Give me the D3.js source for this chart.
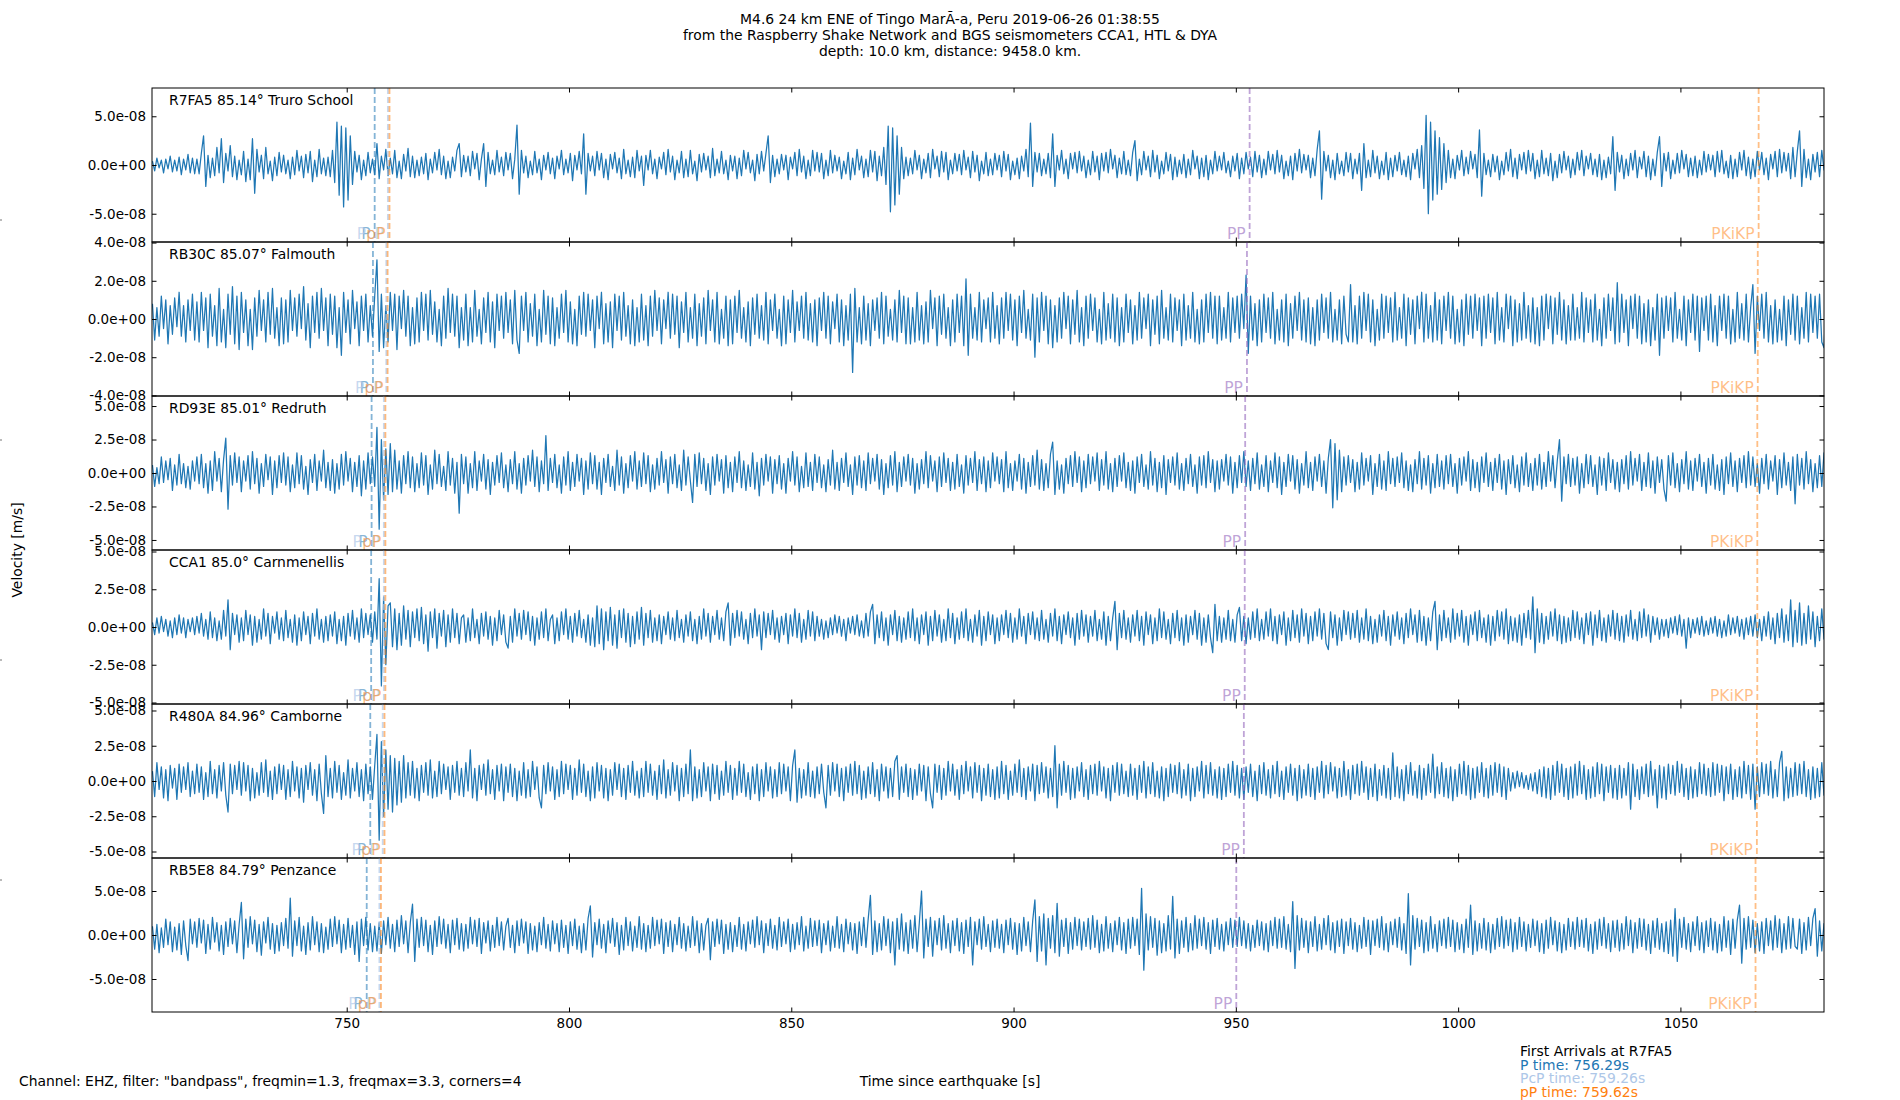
<!DOCTYPE html>
<html>
<head>
<meta charset="utf-8">
<script src="https://cdn.jsdelivr.net/npm/d3@7"></script>
<style>
  body { margin: 0; background: #fff; }
  svg { display: block; }
  text { font-family: "DejaVu Sans", sans-serif; }
</style>
</head>
<body>
<div id="main-vis"></div>
<script>
// ---- data ----
const stationIds = ['R7FA5', 'RB30C', 'RD93E', 'CCA1', 'R480A', 'RB5E8']
const distances = ['85.14', '85.07', '85.01', '85.0', '84.96', '84.79']
const places = ['Truro School', 'Falmouth', 'Redruth', 'Carnmenellis', 'Camborne', 'Penzance']

// y limits of each panel, nm/s
const yLimits = [79, 40.3, 57.5, 51, 54.6, 87.5]
// y tick values (m/s)
const yTicks = [
  [-5e-8, 0, 5e-8],
  [-4e-8, -2e-8, 0, 2e-8, 4e-8],
  [-5e-8, -2.5e-8, 0, 2.5e-8, 5e-8],
  [-5e-8, -2.5e-8, 0, 2.5e-8, 5e-8],
  [-5e-8, -2.5e-8, 0, 2.5e-8, 5e-8],
  [-5e-8, 0, 5e-8]
]
const xTicks = [750, 800, 850, 900, 950, 1000, 1050]
const xRange = [706.2, 1082.3]

// arrival times (s) per station
const arrivalP = [756.29, 755.9, 755.6, 755.5, 755.3, 754.5]
const arrivalPcP = [759.26, 758.9, 758.35, 758.35, 758.1, 757.35]
const arrivalpP = [759.62, 759.2, 758.7, 758.7, 758.5, 757.7]
const arrivalPP = [953.1, 952.5, 952.1, 952.0, 951.8, 950.1]
const arrivalPKiKP = [1067.6, 1067.4, 1067.3, 1067.3, 1067.2, 1066.9]

// traces, nm/s, one sample every 0.5 s from 706.3 s (rows of 10 s)
const T0 = 706.3
const DT = 0.5

const traceR7FA5 = [
  4,-6,7,-3,5,-8,6,-4,9,-7,5,-6,8,-10,6,-5,11,-8,7,-9,
  6,-9,12,30,-22,10,-13,7,-11,18,-8,27,-18,12,-6,20,-12,9,-15,5,
  -10,14,-17,6,-15,27,-29,16,-7,10,-14,18,-9,4,-16,8,-11,13,-7,10,
  -9,5,-14,8,-10,15,-6,9,-13,11,-8,14,-17,5,-12,16,-9,7,-11,8,
  -12,15,-18,44,-31,40,-43,38,-36,30,-20,14,-7,10,-15,5,-11,13,-8,6,
  -10,22,-14,9,-5,16,-11,7,-9,15,-13,4,-14,11,-6,17,-12,9,-13,5,
  -11,8,-9,12,-15,6,-8,13,-5,16,-10,9,-14,4,-13,8,-6,15,22,-12,
  10,-7,9,-11,14,-4,12,-15,6,22,-22,13,-9,5,-10,15,-7,8,-11,13,
  -5,12,-14,6,41,-30,15,-8,9,-13,4,-10,14,-8,6,-15,10,-5,13,-9,
  7,-14,9,-4,15,-10,6,-8,12,-16,10,-5,14,-9,32,-30,12,-6,9,-11,
  14,-5,12,-13,6,-15,11,-4,13,-8,7,-14,16,-9,5,-12,8,-13,15,-6,
  9,-21,10,-5,15,-9,6,-14,8,-4,13,-10,16,-7,9,-15,5,-8,14,-13,
  6,-12,15,-9,4,-16,11,-7,12,-5,9,-13,17,-11,6,-8,14,-9,5,-15,
  10,-6,9,-14,7,-11,15,-4,13,-8,5,-16,11,-9,14,-6,12,30,-18,10,
  -12,6,-9,11,-5,10,-15,8,-4,13,-11,16,-7,9,-14,5,-11,15,-6,13,
  -7,12,-14,5,-11,15,-8,10,-6,8,-14,4,-9,13,-15,7,-10,16,-5,9,
  -13,6,-12,15,-7,14,-16,9,-11,18,-20,40,-48,38,-41,30,-30,18,-14,8,
  -11,7,-9,15,-5,10,-14,6,-8,12,-13,16,-4,9,-12,14,-7,13,-15,5,
  -9,12,-6,11,-10,15,-5,8,-13,14,-7,10,-16,4,-9,13,-11,6,-10,12,
  -5,10,-12,14,-6,11,-15,4,-10,7,-14,9,-6,16,-12,43,-22,13,-7,12,
  -11,6,-9,12,-13,32,-22,10,-5,15,-9,6,-14,12,-4,13,-8,14,-6,9,
  -13,5,-10,14,-7,9,-15,12,-6,13,-8,16,-4,10,-13,7,-9,14,-10,5,
  -11,13,25,-16,6,-10,14,-5,9,-12,15,-7,10,-14,4,-9,13,-6,11,-15,
  8,-12,5,-9,11,-13,6,-10,15,-4,9,-14,7,-12,10,-15,5,-9,14,-6,
  9,-5,13,-8,4,-12,9,-6,12,-14,7,-9,13,-4,8,-12,14,-7,10,-13,
  6,-10,14,-5,11,-9,15,-7,10,-14,4,-11,9,-15,12,-6,16,-8,11,-5,
  10,-13,7,-11,16,35,-35,14,-6,10,-13,5,-15,12,-9,4,-11,13,-7,12,
  -14,6,-9,12,-26,22,-13,5,-12,15,-8,9,-14,4,-10,13,-15,7,-12,10,
  -6,13,-10,5,-12,9,-15,12,-4,16,-13,20,-24,51,-50,44,-36,35,-30,28,
  -25,22,-18,15,-13,6,-14,10,-5,15,-11,8,-9,14,-4,11,-13,36,-32,12,
  -10,5,-12,11,-7,9,-15,4,-10,13,-6,16,-12,7,-14,11,-5,13,-9,15,
  -6,12,-14,5,-12,15,-9,7,-11,12,-16,4,-13,11,-8,14,-5,9,-13,6,
  -10,13,-5,15,-11,9,-4,12,-10,6,-12,11,-15,5,-13,8,-9,29,-26,13,
  -7,10,-14,6,-11,12,-5,15,-13,8,-4,14,-12,9,-15,6,-11,13,29,-22,
  12,-6,13,-14,5,-9,12,-8,15,-4,11,-12,7,-11,9,-13,5,-10,14,-7,
  11,-5,10,-12,14,-7,15,-9,4,-13,10,-14,6,-12,13,-5,15,-11,8,-14,
  6,-12,14,-5,13,-10,7,-15,11,-4,14,-12,16,-8,13,-6,12,-14,18,-12,
  14,35,-22,16,-13,6,-15,11,-7,13,-12,15,-5,12,-11,10,-12,11,-10,9
]

const traceRB30C = [
  8,-11,6,-9,12,-5,10,-13,7,-8,11,-4,14,-9,7,-12,10,-6,13,-11,
  9,-12,14,-6,11,-15,13,-9,7,-14,16,-12,5,-15,13,-8,17,-13,12,-16,
  14,-7,10,-14,5,-16,11,-9,15,-6,10,-12,14,-8,16,-10,6,-14,11,-13,
  10,-12,15,-6,11,-9,13,-5,17,-11,8,-15,12,-7,14,-10,16,-6,11,-14,
  13,-8,12,-15,6,-19,14,-7,10,-13,15,-5,9,-14,12,-6,13,-12,7,-9,
  12,31,-17,13,-15,7,-12,14,-6,13,-16,12,-5,15,-9,12,-14,6,-13,11,
  -12,14,-6,13,-11,15,-8,9,-12,5,-14,12,-10,16,-7,13,-9,12,-15,6,
  -11,13,-14,6,-12,15,-9,5,-13,11,-7,14,-12,9,-15,13,-6,12,-10,14,
  -7,10,-13,15,-11,-18,12,-6,14,-12,8,-9,13,-14,5,-12,15,-8,12,-13,
  11,-14,6,-10,13,-7,15,-12,9,-13,5,-14,12,-8,14,-9,13,-6,10,-15,
  12,-5,14,-13,8,-12,9,-15,13,-6,12,-11,14,-9,7,-13,10,-14,6,-12,
  13,-11,7,-14,12,-9,15,-6,11,-13,10,-5,14,-10,13,-8,12,-15,9,-7,
  14,-12,6,-10,13,-14,8,-9,11,-13,15,-6,10,-12,14,-13,5,-10,12,-14,
  10,-13,12,-7,15,-10,6,-12,9,-14,11,-8,13,-10,7,-11,14,-13,10,-6,
  13,-10,5,-14,12,-13,10,-7,15,-12,9,-6,12,-10,14,-11,8,-12,10,-14,
  11,-6,14,-10,12,-13,9,-5,13,-12,10,-14,7,-11,13,-28,16,-12,6,-13,
  12,-11,8,-14,10,-6,11,-10,14,-13,12,-9,5,-11,10,-12,15,-7,12,-13,
  11,-13,6,-12,14,-11,7,-13,9,-12,15,-5,11,-14,12,-8,13,-10,6,-14,
  10,-12,13,-7,12,-14,21,-19,13,-10,6,-11,14,-12,10,-5,11,-12,14,-10,
  7,-13,11,-10,14,-6,13,-11,10,-14,12,-7,15,-10,5,-11,13,-20,11,-12,
  14,-6,12,-13,10,-15,7,-12,11,-10,14,-5,12,-13,10,-8,15,-12,6,-14,
  12,-10,13,-6,11,-12,5,-13,14,-11,8,-10,13,-12,11,-14,6,-12,13,-7,
  10,-13,7,-11,14,-10,11,-5,13,-14,10,-8,12,-13,15,-10,6,-11,13,-12,
  11,-6,10,-14,13,-11,7,-10,14,-12,5,-13,10,-12,13,-7,14,-10,12,-13,
  12,-11,6,-10,14,-12,11,-7,12,-10,13,-5,23,-18,12,-11,8,-14,10,-12,
  13,-7,11,-10,14,-13,5,-11,10,-12,13,-14,8,-10,12,-6,14,-11,10,-12,
  11,-13,6,-14,10,-11,13,-7,11,-10,14,-12,5,-11,10,-13,12,-8,-12,18,
  -12,7,-13,12,-10,14,-6,13,-12,10,-14,5,-11,13,-10,12,-7,11,-12,14,
  -11,6,-10,13,-14,11,-8,10,-13,12,-5,14,-12,13,-10,7,-12,14,-11,10,
  -13,12,-6,14,-10,12,-13,5,-12,10,-14,13,-8,12,-10,13,-6,11,-14,12,
  -10,13,-7,11,-13,14,-11,6,-12,13,-5,12,-14,10,-12,8,-11,14,-10,7,
  -12,11,-13,6,-14,12,-11,13,-5,12,-13,11,-8,14,-11,10,-13,7,-11,13,
  -11,6,-10,14,-12,11,-7,10,-12,13,-11,5,-14,11,-10,13,-6,11,-13,19,
  -12,13,-7,10,-14,12,-5,13,-10,12,-13,8,-12,10,-14,6,-11,13,-19,11,
  -10,12,-6,11,-12,14,-10,5,-11,12,-14,10,-7,13,-11,12,-17,11,-6,12,
  -11,13,-12,7,-14,12,-6,13,-10,12,-13,5,-12,14,-10,8,-11,13,-12,6,
  18,-18,12,-6,13,-10,14,-12,7,-13,10,-12,5,-11,12,-14,10,-8,13,-11,
  12,-13,6,-10,14,-12,13,-7,12,-10,13,-12,-15,11,-12,10,-13,12,-11,10
]

const traceRD93E = [
  6,-10,4,-8,12,-7,9,-5,11,-13,6,-9,14,-8,7,-11,5,-12,9,-6,
  12,-8,14,-11,7,-15,9,-13,16,-6,11,-14,10,26,-27,13,-9,15,-7,12,
  -14,9,-6,13,-12,16,-8,11,-15,7,-10,14,-5,12,-16,9,-11,13,-7,15,
  -9,12,-14,6,-11,15,-8,13,-12,5,-16,10,-7,14,-13,9,-6,17,-11,8,
  -13,10,-15,7,-12,14,-9,16,-6,11,-14,8,-10,13,-17,9,-12,15,-8,12,
  -10,34,-42,25,-20,18,-16,22,-14,17,-12,9,-15,13,-8,16,-11,12,-14,7,
  -11,15,-9,13,-16,6,-12,17,-8,14,-10,5,-13,16,-9,11,-15,8,-30,14,
  -8,12,-15,7,-11,16,-13,9,-6,14,-12,10,-16,8,-9,13,-7,15,-11,6,
  -14,10,-8,16,-12,7,-15,11,-9,13,-6,17,-10,12,-14,9,-8,28,-13,11,
  -7,14,-11,6,-15,12,-9,16,-13,8,-10,14,-6,11,-16,9,-12,15,-8,13,
  -12,8,-16,11,-7,14,-10,5,-13,17,-9,12,-15,7,-11,13,-6,16,-12,9,
  -10,15,-8,13,-14,6,-12,11,-9,16,-7,10,-15,12,-8,14,-11,6,-13,17,
  -9,12,-6,-22,14,-10,15,-8,11,-13,7,-16,12,-9,14,-6,10,-15,13,-11,
  8,-14,12,-7,16,-11,9,-13,6,-10,15,-12,8,-17,11,-9,14,-6,12,-15,
  10,-8,13,-12,7,-15,11,-6,16,-9,12,-14,5,-11,15,-10,8,-13,14,-7,
  12,-11,6,-14,10,-9,17,-12,8,-13,11,-7,15,-10,6,-16,12,-9,13,-11,
  9,-13,15,-8,11,-6,14,-12,10,-16,7,-11,13,-9,16,-14,8,-10,12,-6,
  14,-9,11,-15,7,-12,10,-8,16,-11,13,-6,9,-14,12,-10,15,-7,11,-13,
  8,-12,14,-10,6,-15,13,-9,11,-7,16,-13,10,-8,12,-14,9,-11,15,-6,
  12,-8,10,-14,16,-11,7,-13,9,-6,14,-12,11,-15,8,-10,13,-9,17,-12,
  10,-13,7,-11,14,23,-16,9,-12,6,-15,11,-8,13,-10,16,-7,12,-14,9,
  -11,14,-8,12,-6,15,-13,10,-9,16,-12,7,-14,11,-10,13,-6,15,-11,8,
  -13,9,-15,12,-7,14,-10,6,-12,16,-9,11,-14,8,-11,13,-16,10,-7,12,
  -9,15,-12,7,-13,11,-8,14,-10,6,-15,12,-9,13,-11,16,-7,10,-14,9,
  -12,10,-6,14,-9,12,-15,8,-11,13,-7,16,-10,9,-13,11,-8,15,-12,6,
  -10,13,-14,9,-7,15,-11,12,-16,8,-10,14,-6,13,-12,10,-15,7,-9,16,
  -11,8,-13,12,-6,14,-10,9,-15,11,25,-26,22,-20,17,-14,12,-9,13,-7,
  10,-14,8,-12,15,-9,11,-6,13,-16,7,-10,14,-12,9,-13,16,-8,11,-10,
  12,-7,15,-11,9,-13,6,-14,10,-8,16,-12,11,-9,13,-15,7,-11,14,-10,
  9,-12,13,-8,14,-10,7,-15,11,-9,12,-6,16,-13,10,-11,8,-14,12,-7,
  15,-10,8,-13,11,-7,14,-12,9,-16,10,-8,13,-11,6,-14,12,-9,15,-10,
  7,-13,11,-9,14,-12,8,-10,16,-6,13,-11,9,25,-21,12,-8,14,-10,11,
  -9,12,-15,7,-11,14,-8,13,-10,6,-16,12,-9,11,-13,15,-7,10,-12,8,
  -14,10,-8,13,-12,16,-9,11,-6,14,-13,8,-10,15,-11,9,-15,12,-7,10,
  -12,-21,13,-9,15,-11,7,-14,10,-8,16,-12,9,-13,11,-6,14,-10,8,-15,
  11,-9,14,-12,6,-13,10,-16,12,-8,15,-10,9,-14,11,-7,13,-11,16,-9,
  12,-10,7,-15,11,-8,14,-12,9,-6,13,-16,10,-11,15,-9,8,-13,12,-23,
  14,-9,11,-12,16,-8,10,-14,7,-11,13,-10,15,-12,9,-7,12,-10,8,-6
]

const traceCCA1 = [
  3,-5,6,-4,7,-3,5,-6,4,-7,6,-5,8,-4,6,-7,5,-3,6,-5,
  7,-4,9,-6,5,-8,10,-7,6,-9,4,-8,11,-6,18,-15,9,-5,8,-10,
  6,-9,11,-5,8,-12,7,-10,5,-8,12,-6,9,-11,7,-4,10,-8,6,-9,
  11,-7,5,-10,8,-12,6,-9,10,-5,7,-11,9,-6,12,-8,5,-10,7,-9,
  8,-6,10,-11,5,-9,7,-12,9,-6,11,-8,6,-10,12,-7,9,-5,8,-10,
  10,-8,32,-39,20,-25,14,16,-13,12,-15,9,-12,14,-8,11,-13,10,-7,12,
  -9,13,-11,8,-16,10,-7,12,-14,9,-6,11,-13,8,-10,12,-7,9,-11,6,
  8,-10,6,-9,12,-7,5,-11,9,-6,10,-8,7,-12,6,-9,11,-5,8,-10,
  -14,7,-10,12,-6,9,-8,11,-5,10,-9,7,-12,6,-8,10,-7,12,-9,5,
  8,-11,6,-9,10,-5,12,-8,7,-10,9,-6,11,-7,5,-10,8,-12,6,-13,
  14,-11,12,-15,10,-9,13,-12,8,-14,11,-7,12,-10,9,-13,7,-11,10,-8,
  13,-12,9,-7,11,-10,6,-9,8,-11,7,-5,10,-8,6,-9,11,-7,5,-10,
  8,-6,10,-9,5,-11,7,-8,12,-6,9,-10,7,-5,11,-8,6,-9,10,16,
  -12,9,-7,11,-6,10,-8,5,-11,9,-7,12,-6,8,-15,10,-7,9,-5,11,
  -8,6,-10,7,-5,9,-11,8,-6,12,-7,9,-10,5,-8,11,-6,10,-9,7,
  -6,5,-8,4,-7,6,-5,8,-4,7,-6,5,-9,6,-4,7,-5,8,-6,4,
  -7,9,-6,10,15,-11,8,-7,10,-9,6,-12,8,-5,11,-9,7,-10,6,-8,
  10,-7,12,-9,6,-11,8,-5,10,-12,7,-9,11,-6,8,-10,5,-9,12,-7,
  9,-11,6,-8,10,-7,12,-9,5,-10,8,-6,11,-12,7,-9,10,-5,8,-11,
  6,-9,8,-5,11,-7,9,-10,6,-8,12,-6,7,-11,9,-5,10,-8,6,-9,
  11,-8,5,-10,9,-6,12,-9,7,-11,8,-5,10,-7,6,-12,9,-8,11,-6,
  8,-10,7,-6,11,-9,5,-8,10,-12,7,-9,6,17,-15,9,-7,11,-8,6,
  -10,8,-6,11,-9,7,-12,10,-5,8,-11,6,-9,12,-7,10,-8,5,-11,9,
  -7,11,-9,6,-12,8,-10,7,-5,11,-8,9,-12,6,-10,8,-7,-17,15,-9,
  7,-10,6,-8,11,-9,5,-10,8,13,-9,7,-11,6,-8,10,-7,12,-9,5,
  -8,10,-6,12,-9,7,-11,8,-5,10,-12,6,-9,11,-7,8,-10,12,-6,9,
  -11,7,-9,10,-6,12,-8,9,-11,-15,10,-7,8,-12,6,-9,11,-5,10,-8,
  9,-7,11,-10,6,-8,12,-9,7,-11,5,-10,8,-6,11,-9,7,-12,8,-6,
  10,-8,6,-11,9,-7,12,-5,8,-10,11,-9,7,-12,6,-9,10,17,-15,8,
  -9,11,-7,6,-10,12,-8,9,-6,11,-10,7,-12,8,-5,10,-9,11,-7,6,
  -10,8,-12,7,-9,11,-6,10,-8,12,-11,7,-9,6,-10,8,-12,9,-7,11,
  -8,20,-17,12,-10,9,-11,7,-8,10,-6,12,-9,8,-11,7,-10,6,-9,11,
  -7,10,-8,6,-11,9,-5,10,-12,8,-7,11,-9,6,-10,8,-6,11,-8,9,
  -9,7,-10,8,-6,11,-8,5,-9,10,-7,12,-6,8,-10,7,-5,6,-8,5,
  -6,5,-7,6,-4,7,-5,8,-6,5,-14,6,-7,5,-4,6,-5,7,-6,4,
  -5,6,-4,7,-6,5,-7,4,-6,8,-5,6,-4,7,-6,5,-8,6,-5,7,
  -6,8,-7,5,-9,7,-6,10,-8,6,-11,9,-7,12,-10,8,-9,18,-13,11,
  -10,16,-12,9,-11,14,-8,10,-13,7,-9,12,-8,10,-7,9,-11,8,-6,10
]

const traceR480A = [
  7,-11,13,-6,10,-12,8,-14,11,-5,9,-13,12,-8,10,-6,13,-11,7,-9,
  12,-8,10,-13,6,-11,14,-9,8,-12,11,-7,13,-10,-22,12,-9,11,-6,14,
  -10,13,-7,11,-14,9,-12,6,-10,13,-8,15,-11,7,-13,10,-9,12,-6,11,
  -13,8,-11,14,-7,10,-12,9,-15,11,-6,13,-10,8,-14,12,-9,-23,18,-11,
  9,-12,14,-8,11,-13,6,-10,15,-12,9,-7,13,-11,8,-14,12,-9,10,-13,
  11,33,-42,28,-25,22,-20,18,-22,16,-17,14,-15,18,-12,13,-10,14,-12,9,
  -14,11,-8,13,-10,15,-12,7,-11,14,-9,12,-6,10,-13,11,-8,14,-10,9,
  -11,13,-7,22,-12,9,-14,11,-6,12,-10,15,-9,8,-13,11,-7,12,-14,10,
  -8,12,-11,9,-14,7,-10,13,-12,8,-11,14,-6,10,-12,-19,11,-9,13,-7,
  10,-13,8,-11,14,-9,12,-6,11,-13,9,-10,15,-8,12,-11,7,-14,10,-12,
  13,-7,11,-12,9,-14,8,-10,13,-6,12,-11,9,-13,11,-8,14,-10,7,-12,
  9,-11,14,-8,12,-10,7,-13,11,-9,15,-12,8,-10,13,-7,11,-14,9,-11,
  12,-9,22,-14,10,-12,8,-11,13,-7,10,-14,12,-9,11,-13,7,-10,14,-8,
  11,-13,9,-10,14,-8,12,-11,6,-13,10,-9,12,-14,8,-11,13,-7,10,-12,
  8,-11,13,-9,12,-7,10,-14,11,22,-15,9,-12,8,-10,13,-11,7,-12,10,
  -9,12,-8,-19,11,-10,13,-7,12,-11,9,-14,10,-8,12,-10,14,-9,11,-13,
  7,-12,10,-9,13,-11,8,-14,12,-7,10,-12,9,-11,14,18,-13,10,-8,12,
  -11,9,-13,8,-10,12,-7,11,-14,10,-9,-19,12,-8,11,-13,9,-10,14,-7,
  12,-10,8,-13,11,-9,14,-7,10,-12,13,-8,11,-14,9,-10,12,-11,8,-13,
  10,-12,14,-9,11,-13,7,-10,12,-8,15,-11,9,-13,10,-7,12,-14,11,-9,
  13,-8,10,-12,9,-11,25,-19,12,-10,14,-8,11,-13,9,-12,10,-7,13,-11,
  8,-13,11,-9,12,-10,14,-7,10,-12,9,-14,11,-8,13,-10,12,-9,7,-11,
  12,-10,9,-13,11,-8,14,-12,10,-9,13,-11,7,-12,10,-14,9,-11,12,-8,
  11,-9,13,-12,8,-10,12,-14,9,-11,10,-7,14,-12,11,-9,13,-10,8,-12,
  10,-13,9,-11,12,-8,14,-10,11,-12,9,-13,10,-8,12,-11,7,-14,11,-9,
  13,-10,8,-12,11,-9,14,-11,7,-13,10,-8,12,-10,9,-14,11,-12,8,-10,
  12,-11,9,-13,10,-8,14,-12,11,-9,13,-7,10,-12,9,-11,14,-10,8,-13,
  11,-9,12,-10,14,-8,10,-13,9,-11,12,-14,8,-10,11,-12,9,-13,20,-11,
  10,-12,8,-14,11,-9,13,-10,7,-12,11,-13,9,-10,12,-8,19,-12,10,-9,
  13,-11,9,-12,10,-14,8,-11,12,-9,14,-10,11,-13,9,-12,10,-8,13,-11,
  9,-12,11,-10,13,-8,12,-11,10,-13,9,-7,6,-5,7,-4,6,-5,4,-6,
  5,-7,6,-9,8,-11,10,-12,9,-13,11,-10,14,-8,12,-11,9,-13,10,-12,
  12,-10,14,-9,11,-13,8,-12,10,-11,13,-9,12,-14,10,-8,11,-12,9,-13,
  11,-12,9,-10,13,-20,12,-11,8,-13,10,-9,12,-11,14,-10,8,-19,11,-12,
  10,-13,12,-9,11,-10,14,-8,12,-11,9,-13,10,-12,8,-11,13,-9,12,-10,
  9,-11,13,-10,12,-8,11,-14,10,-9,12,-13,8,-11,10,-12,14,-9,11,-13,
  12,-20,10,-11,13,-9,12,-10,14,-12,8,-11,13,21,-14,10,-12,9,-11,13,
  -10,12,-9,14,-11,8,-13,10,-12,9,-11,13,-10,12,-8,11,-9,10,-12,8
]

const traceRB5E8 = [
  10,-16,12,-20,8,-14,18,-11,15,-19,9,-17,13,-22,16,-12,-29,18,-10,15,
  -14,19,-9,17,-21,12,-16,20,-8,14,-18,11,-22,15,-13,19,-10,16,-20,12,
  37,-27,18,-14,21,-10,17,-19,12,-23,15,-9,20,-16,13,-21,11,-18,14,-12,
  19,-15,42,-24,16,-12,20,-18,10,-22,14,-17,21,-11,15,-19,13,-20,9,-16,
  18,-13,21,-10,17,-20,12,-16,19,-14,11,-22,15,-30,18,-12,20,-17,13,-19,
  10,-18,14,-21,16,-11,20,-15,12,-19,17,-13,22,-10,16,-20,14,35,-30,18,
  -14,20,-12,17,-19,11,-22,16,-13,21,-10,18,-15,12,-20,17,-11,19,-16,13,
  -18,12,-15,20,-10,17,-13,19,-21,14,-9,16,-18,11,-14,20,-12,15,-17,10,
  19,-14,11,-20,16,-12,18,-9,15,-21,13,-17,10,-19,14,-11,20,-15,12,-18,
  16,-10,13,-19,17,-14,11,-21,15,-12,18,-16,10,-20,13,-17,19,33,-25,14,
  -11,18,-15,12,-20,16,-9,19,-13,14,-22,11,-17,20,-12,15,-18,10,-14,21,
  -16,13,-19,11,-15,20,-12,17,-10,18,-21,14,-13,16,-19,12,-11,20,-15,13,
  -18,10,-14,21,-12,16,-20,13,-17,11,19,-28,15,-13,18,-10,17,-21,12,-16,
  14,-19,11,-13,20,-16,12,-18,15,-10,17,-14,21,-11,16,-20,13,-12,18,-15,
  11,-17,20,-13,15,-10,18,-19,12,-16,14,-11,21,-18,10,-15,19,-13,16,-12,
  17,-20,13,-11,16,-18,10,-14,21,-15,12,-19,18,-10,14,-17,13,-21,15,-12,
  20,-14,18,45,-22,16,-19,13,-17,21,-12,18,-20,15,-34,19,-16,24,-18,14,
  -21,17,-15,22,-19,14,50,-26,18,-13,20,-24,16,-11,19,-17,22,-15,13,-20,
  16,-12,19,-18,14,-21,17,-13,20,-34,15,-11,18,-16,21,-13,12,-19,16,-14,
  18,-15,12,-20,17,-11,19,-16,14,-22,13,-18,20,-12,15,-19,16,40,-30,21,
  -18,24,-34,19,-15,22,-20,36,-24,17,-13,19,-21,14,-16,20,-12,18,-17,15,
  -13,19,-16,22,-14,17,-20,12,-18,21,-15,13,-19,16,-11,20,-17,14,-21,18,
  -15,20,-12,18,-22,53,-40,24,-17,21,-14,19,-23,16,-20,13,-18,22,-16,44,
  -26,18,-21,16,-14,20,-19,13,-17,22,-15,18,-12,20,-16,14,-21,17,-13,19,
  -16,12,-18,15,-11,19,-14,17,-13,20,-12,16,-15,13,-18,11,-14,17,-12,15,
  -17,13,-19,16,-12,20,-15,18,-14,21,-16,12,-19,38,-38,22,-17,19,-14,16,
  -20,15,-13,21,-18,12,-16,19,-11,22,-17,14,-20,16,-13,18,-21,15,-12,19,
  -16,14,-19,11,-15,20,-13,17,-22,16,-12,18,-14,21,-17,13,-19,15,-11,18,
  -14,20,-17,13,-21,47,-34,22,-16,19,-13,17,-20,14,-18,21,-15,12,-19,16,
  -12,18,-15,20,-13,17,-19,14,-16,12,-20,18,-14,34,-22,16,-18,13,-15,19,
  -17,14,-20,12,-16,19,-13,21,-15,17,-12,18,-19,14,-16,20,-13,15,-18,12,
  -14,18,-12,16,-19,13,-21,17,-15,20,-11,16,-18,14,-20,12,-17,19,-13,15,
  -16,20,-13,17,-14,19,-18,12,-21,15,-16,18,-12,20,-15,13,-19,16,-14,17,
  -18,13,-16,21,-12,17,-20,14,-15,19,-13,18,-17,12,-21,16,-14,19,-16,13,
  -19,15,-21,17,-24,30,-30,18,-14,20,-16,13,-19,15,-12,21,-17,14,-20,16,
  -13,19,-17,15,-20,12,-18,21,-14,16,-22,18,-15,17,34,-32,19,-16,21,-14,
  17,-20,13,-18,15,-21,19,-12,16,-17,22,-14,18,-20,13,-16,21,-15,19,-13,
  -16,18,-21,14,-17,20,-12,19,30,-24,16,-18,13,-20,15,-12,18,-14,16,-11
]

const traces = [traceR7FA5, traceRB30C, traceRD93E, traceCCA1, traceR480A, traceRB5E8]

const titleLines = [
  'M4.6 24 km ENE of Tingo MarÃ-a, Peru 2019-06-26 01:38:55',
  'from the Raspberry Shake Network and BGS seismometers CCA1, HTL & DYA',
  'depth: 10.0 km, distance: 9458.0 km.'
]

window.onload = setup

function sciLabel (v) {
  return v.toExponential(1).replace(/e([+-])(\d)$/, (m, s, d) => 'e' + s + '0' + d)
}

function setup () {
  const W = 1900, H = 1100
  const left = 152, right = 1824, top = 88, panelH = 154
  const font = 13.9      // titles, labels, footer
  const tickFont = 13.5  // tick labels

  const svg = d3.create('svg')
      .attr('width', W)
      .attr('height', H)
      .attr('viewBox', `0 0 ${W} ${H}`)

  svg.append('rect').attr('width', W).attr('height', H).attr('fill', '#fff')

  const x = d3.scaleLinear().domain(xRange).range([left, right])

  // phase lines: name, times, colour, opacity
  const phases = [
    {name: 'P', t: arrivalP, c: '#1f77b4', o: 0.55},
    {name: 'PcP', t: arrivalPcP, c: '#aec7e8', o: 0.7},
    {name: 'pP', t: arrivalpP, c: '#ff7f0e', o: 0.55},
    {name: 'PP', t: arrivalPP, c: '#9467bd', o: 0.6},
    {name: 'PKiKP', t: arrivalPKiKP, c: '#ff7f0e', o: 0.5}
  ]

  stationIds.forEach((id, i) => {
    const y0 = top + i * panelH
    const y1 = y0 + panelH
    const lim = yLimits[i] * 1e-9
    const y = d3.scaleLinear().domain([-lim, lim]).range([y1, y0])
    const g = svg.append('g')

    svg.append('clipPath').attr('id', 'clip' + i)
      .append('rect')
        .attr('x', left).attr('y', y0)
        .attr('width', right - left).attr('height', panelH)

    const line = d3.line()
        .x((d, j) => x(T0 + j * DT))
        .y(d => y(d * 1e-9))

    g.append('path')
        .datum(traces[i])
        .attr('clip-path', `url(#clip${i})`)
        .attr('fill', 'none')
        .attr('stroke', '#1f77b4')
        .attr('stroke-width', 1.25)
        .attr('stroke-linejoin', 'round')
        .attr('d', line)

    // arrival markers
    phases.forEach(ph => {
      const px = x(ph.t[i])
      g.append('line')
          .attr('x1', px).attr('x2', px)
          .attr('y1', y0).attr('y2', y1)
          .attr('stroke', ph.c)
          .attr('stroke-opacity', ph.o)
          .attr('stroke-width', 1.8)
          .attr('stroke-dasharray', '6,3')
      g.append('text')
          .attr('x', px - 4)
          .attr('y', y1 - 3.5)
          .attr('text-anchor', 'end')
          .attr('font-size', 15.5)
          .attr('fill', ph.c)
          .attr('fill-opacity', ph.o)
          .text(ph.name)
    })

    // axes, all ticks pointing in
    const yl = g.append('g').attr('transform', `translate(${left},0)`)
        .call(d3.axisLeft(y).tickValues(yTicks[i]).tickSize(-4.5).tickPadding(6).tickFormat(sciLabel))
    const yr = g.append('g').attr('transform', `translate(${right},0)`)
        .call(d3.axisRight(y).tickValues(yTicks[i]).tickSize(-4.5).tickFormat(''))
    const xt = g.append('g').attr('transform', `translate(0,${y0})`)
        .call(d3.axisTop(x).tickValues(xTicks).tickSize(-4.5).tickFormat(''))
    const xb = g.append('g').attr('transform', `translate(0,${y1})`)
        .call(d3.axisBottom(x).tickValues(xTicks).tickSize(-4.5).tickPadding(6.5)
          .tickFormat(i === stationIds.length - 1 ? d3.format('d') : ''))

    ;[yl, yr, xt, xb].forEach(a => {
      a.attr('font-size', tickFont).attr('font-family', '"DejaVu Sans", sans-serif')
      a.select('.domain').remove()
      a.selectAll('.tick line').attr('stroke', '#000').attr('stroke-width', 1)
      a.selectAll('.tick text').attr('fill', '#000')
    })

    g.append('rect')
        .attr('x', left).attr('y', y0)
        .attr('width', right - left).attr('height', panelH)
        .attr('fill', 'none')
        .attr('stroke', '#000')
        .attr('stroke-width', 1)

    g.append('text')
        .attr('x', left + 17)
        .attr('y', y0 + 17)
        .attr('font-size', font)
        .attr('fill', '#000')
        .text(`${id} ${distances[i]}° ${places[i]}`)
  })

  // title
  svg.append('g').selectAll('text')
    .data(titleLines)
    .join('text')
      .attr('x', W / 2)
      .attr('y', (d, k) => 24 + k * 15.8)
      .attr('text-anchor', 'middle')
      .attr('font-size', font)
      .text(d => d)

  // axis titles and footer
  svg.append('text')
      .attr('transform', `translate(17,${H / 2}) rotate(-90)`)
      .attr('text-anchor', 'middle')
      .attr('dominant-baseline', 'central')
      .attr('font-size', font)
      .text('Velocity [m/s]')

  svg.append('text')
      .attr('x', W / 2).attr('y', 1086)
      .attr('text-anchor', 'middle')
      .attr('font-size', font)
      .text('Time since earthquake [s]')

  svg.append('text')
      .attr('x', 19).attr('y', 1086)
      .attr('font-size', font)
      .text('Channel: EHZ, filter: "bandpass", freqmin=1.3, freqmax=3.3, corners=4')

  // first arrivals box
  const firstLines = [
    {s: `First Arrivals at ${stationIds[0]}`, c: '#000'},
    {s: `P time: ${arrivalP[0].toFixed(2)}s`, c: '#1f77b4'},
    {s: `PcP time: ${arrivalPcP[0].toFixed(2)}s`, c: '#aec7e8'},
    {s: `pP time: ${arrivalpP[0].toFixed(2)}s`, c: '#ff7f0e'}
  ]
  svg.append('g').selectAll('text')
    .data(firstLines)
    .join('text')
      .attr('x', 1520)
      .attr('y', (d, k) => 1056 + k * 13.6)
      .attr('font-size', font)
      .attr('fill', d => d.c)
      .text(d => d.s)

  // faint figure-edge ticks
  const fy = d3.scaleLinear().domain([0, 1]).range([H, 0])
  svg.append('g').selectAll('rect')
    .data([0.2, 0.4, 0.6, 0.8])
    .join('rect')
      .attr('x', 0).attr('y', d => fy(d) - 0.5)
      .attr('width', 2).attr('height', 1)
      .attr('fill', '#777')

  d3.select('#main-vis').node().appendChild(svg.node())
}
</script>
</body>
</html>
